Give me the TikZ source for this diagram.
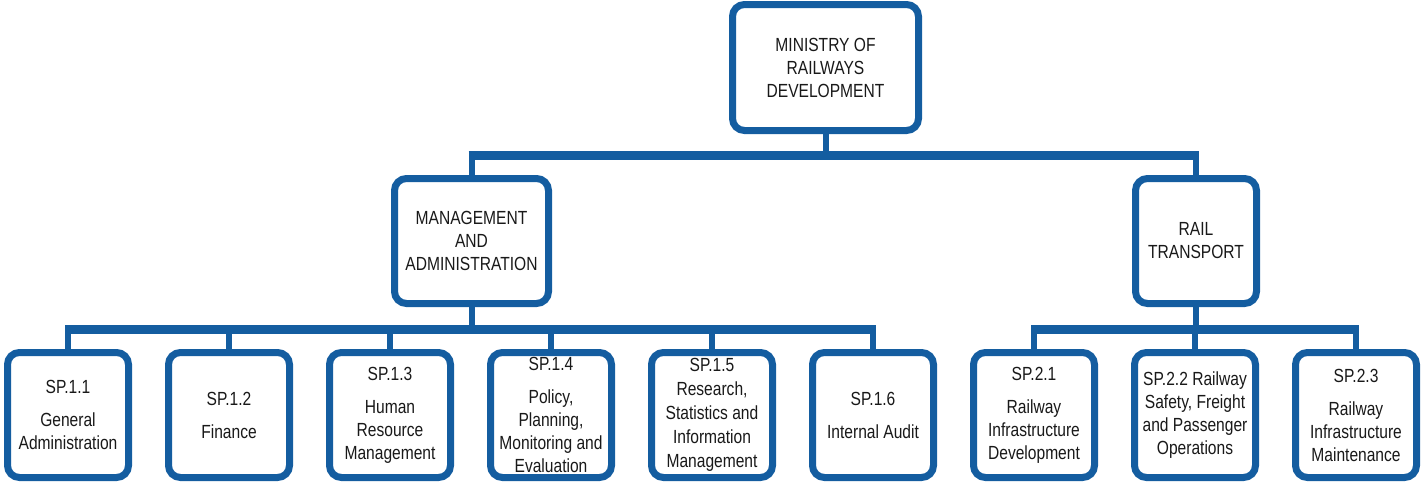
\documentclass[tikz,border=0pt]{standalone}
\usepackage{fontspec}
\setmainfont[FakeStretch=0.82]{Liberation Sans}
\definecolor{orgblue}{RGB}{20,93,160}
\definecolor{txt}{RGB}{25,25,25}
\begin{document}
\begin{tikzpicture}[x=1pt,y=-1pt,
  orgbox/.style={draw=orgblue, line width=7pt, rounded corners=12pt, fill=white,
    align=center, text=txt, font=\fontsize{19}{23}\selectfont, inner sep=0pt},
  leaf/.style={orgbox, minimum width=121pt, minimum height=125pt},
  vline/.style={draw=orgblue, line width=6pt},
  hline/.style={draw=orgblue, line width=9pt, shorten <=-3pt, shorten >=-3pt}]
\useasboundingbox (0,0) rectangle (1421,482);

% top level
\node[orgbox, minimum width=186pt, minimum height=126pt] (min) at (825.5,67.5)
  {MINISTRY OF\\RAILWAYS\\DEVELOPMENT};
% second level
\node[orgbox, minimum width=154pt, minimum height=125pt] (mgmt) at (471.5,241)
  {MANAGEMENT\\AND\\ADMINISTRATION};
\node[orgbox, minimum width=121pt, minimum height=125pt] (rail) at (1196,241)
  {RAIL\\TRANSPORT};
% leaves
\node[leaf] (s11) at (68,415)   {SP.1.1\\[10pt]General\\Administration};
\node[leaf] (s12) at (229,415)  {SP.1.2\\[10pt]Finance};
\node[leaf] (s13) at (390,415)  {SP.1.3\\[10pt]Human\\Resource\\Management};
\node[leaf] (s14) at (551,415)  {SP.1.4\\[10pt]Policy,\\Planning,\\Monitoring and\\Evaluation};
\node[leaf, font=\fontsize{19}{24}\selectfont] (s15) at (712,415)  {SP.1.5\\Research,\\Statistics and\\Information\\Management};
\node[leaf] (s16) at (873,415)  {SP.1.6\\[10pt]Internal Audit};
\node[leaf] (s21) at (1034,415) {SP.2.1\\[10pt]Railway\\Infrastructure\\Development};
\node[leaf] (s22) at (1195,415) {SP.2.2 Railway\\Safety, Freight\\and Passenger\\Operations};
\node[leaf] (s23) at (1356,415) {SP.2.3\\[10pt]Railway\\Infrastructure\\Maintenance};

\coordinate (bar1) at (0,155);
\coordinate (bar2) at (0,329);

% connectors level 1
\draw[vline] (min.south) -- (min.south |- bar1);
\draw[vline] (mgmt.north |- bar1) -- (mgmt.north);
\draw[vline] (rail.north |- bar1) -- (rail.north);
\draw[hline] (mgmt.north |- bar1) -- (rail.north |- bar1);

% connectors level 2 (management)
\draw[vline] (mgmt.south) -- (mgmt.south |- bar2);
\foreach \n in {s11,s12,s13,s14,s15,s16}
  \draw[vline] (\n.north |- bar2) -- (\n.north);
\draw[hline] (s11.north |- bar2) -- (s16.north |- bar2);

% connectors level 2 (rail)
\draw[vline] (rail.south) -- (rail.south |- bar2);
\foreach \n in {s21,s22,s23}
  \draw[vline] (\n.north |- bar2) -- (\n.north);
\draw[hline] (s21.north |- bar2) -- (s23.north |- bar2);
\end{tikzpicture}
\end{document}
